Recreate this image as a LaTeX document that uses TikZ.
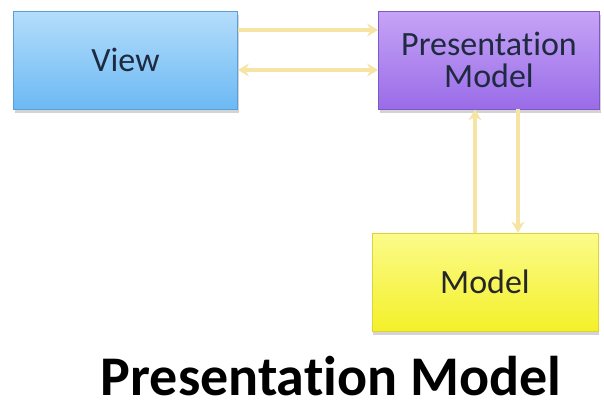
\documentclass[tikz,border=0pt]{standalone}
\usepackage{fontspec}
\setmainfont[Ligatures={NoCommon}]{Carlito}
\usetikzlibrary{shadows,arrows.meta}
\definecolor{viewtop}{HTML}{B4DDFB}
\definecolor{viewbot}{HTML}{6CB9F4}
\definecolor{viewdraw}{HTML}{5C9ED6}
\definecolor{pmtop}{HTML}{C6A4F6}
\definecolor{pmbot}{HTML}{9A6CE8}
\definecolor{pmdraw}{HTML}{7E58C6}
\definecolor{mtop}{HTML}{FBFB8A}
\definecolor{mbot}{HTML}{F4F02A}
\definecolor{mdraw}{HTML}{DCD43A}
\definecolor{arr}{HTML}{F5E4A4}
\definecolor{txt}{HTML}{1E2A40}
\tikzset{
  box/.style={draw, line width=0.8pt, minimum width=224pt, minimum height=98pt,
    inner sep=0pt, align=center, font=\fontsize{34}{32}\selectfont, text=txt,
    drop shadow={shadow xshift=1pt, shadow yshift=-4pt, opacity=0.35}},
  link/.style={draw=arr, line width=3.2pt, -{Stealth[length=11pt,width=13pt]}},
  biline/.style={draw=arr, line width=3.2pt, {Stealth[length=11pt,width=13pt]}-{Stealth[length=11pt,width=13pt]}}
}
\begin{document}
\begin{tikzpicture}[x=1pt,y=-1pt]
\useasboundingbox (0,0) rectangle (604,408);
\node[box, top color=viewtop, bottom color=viewbot, draw=viewdraw] (view) at (125.5,60) {View};
\node[box, top color=pmtop, bottom color=pmbot, draw=pmdraw, minimum width=221pt] (pm) at (489,60) {Presentation\\Model};
\node[box, top color=mtop, bottom color=mbot, draw=mdraw, minimum width=226pt, text=black!85] (model) at (485,282) {Model};
\node[font=\fontsize{56}{60}\selectfont\bfseries, text=black, anchor=base] (title) at (331,395) {Presentation Model};
\draw[link] (view.east |- 0,30) -- (pm.west |- 0,30);
\draw[biline] (view.east |- 0,70) -- (pm.west |- 0,70);
\draw[link] (model.north -| 475,0) -- (pm.south -| 475,0);
\draw[link] (pm.south -| 518,0) -- (model.north -| 518,0);
\end{tikzpicture}
\end{document}
